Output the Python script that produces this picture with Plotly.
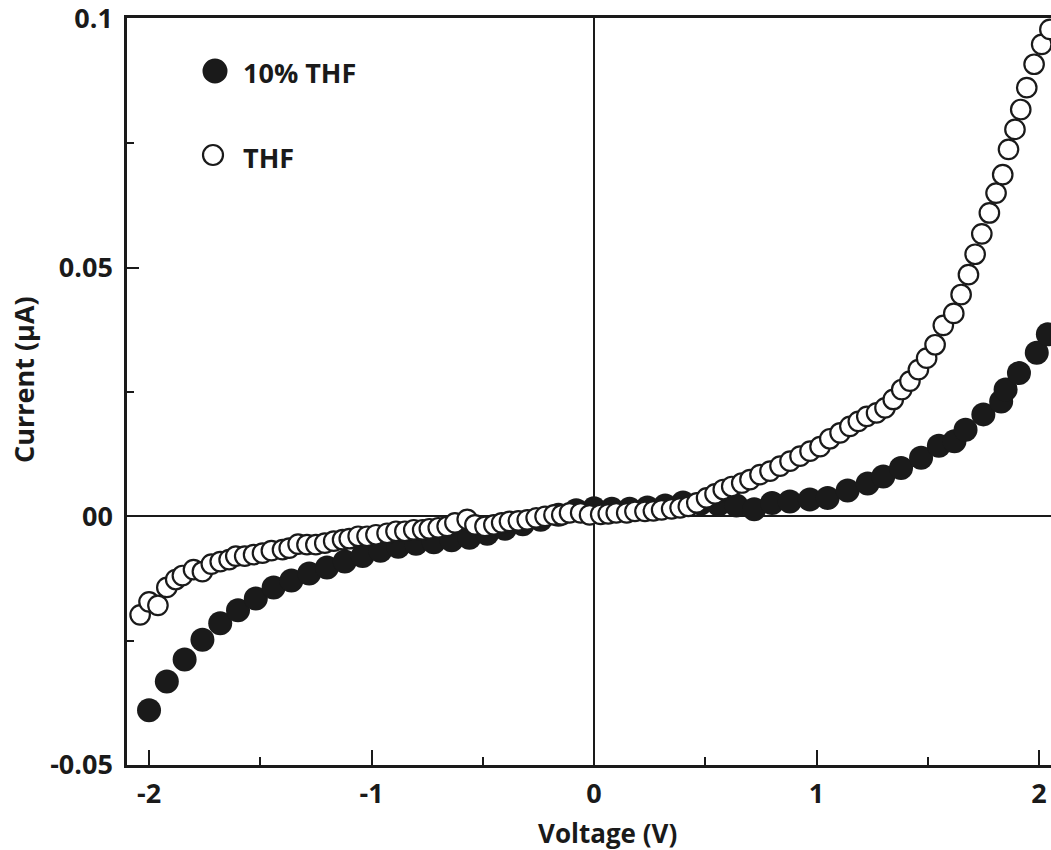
import plotly.graph_objects as go

# I-V sweep, 10% THF (filled markers)
v_10thf = [-2.00, -1.92, -1.84, -1.76, -1.68, -1.60, -1.52, -1.44, -1.36, -1.28,
           -1.20, -1.12, -1.04, -0.96, -0.88, -0.80, -0.72, -0.64, -0.56, -0.48,
           -0.40, -0.32, -0.24, -0.16, -0.08, 0.00, 0.08, 0.16, 0.24, 0.32,
           0.40, 0.48, 0.56, 0.64, 0.72, 0.80, 0.88, 0.97, 1.05, 1.14,
           1.23, 1.30, 1.38, 1.47, 1.55, 1.62, 1.67, 1.75, 1.83, 1.85,
           1.91, 1.99, 2.04]
i_10thf = [-0.0390, -0.0332, -0.0288, -0.0248, -0.0215, -0.0189, -0.0165, -0.0143, -0.0129, -0.0115,
           -0.0103, -0.0091, -0.0080, -0.0069, -0.0061, -0.0055, -0.0052, -0.0048, -0.0043, -0.0035,
           -0.0025, -0.0016, -0.0007, 0.0003, 0.0012, 0.0016, 0.0015, 0.0015, 0.0018, 0.0022,
           0.0028, 0.0026, 0.0024, 0.0022, 0.0014, 0.0027, 0.0030, 0.0034, 0.0037, 0.0052,
           0.0066, 0.0080, 0.0097, 0.0118, 0.0142, 0.0151, 0.0174, 0.0205, 0.0231, 0.0255,
           0.0288, 0.0329, 0.0366]

# I-V sweep, THF (open markers)
v_thf = [-2.04, -2.00, -1.96, -1.92, -1.88, -1.85, -1.80, -1.76, -1.72, -1.68,
         -1.64, -1.61, -1.57, -1.53, -1.49, -1.45, -1.40, -1.37, -1.33, -1.29,
         -1.25, -1.21, -1.17, -1.13, -1.10, -1.06, -1.02, -0.98, -0.93, -0.89,
         -0.85, -0.81, -0.77, -0.74, -0.70, -0.66, -0.625, -0.57, -0.535, -0.49,
         -0.45, -0.415, -0.38, -0.34, -0.30, -0.26, -0.22, -0.18, -0.145, -0.11,
         -0.06, -0.02, 0.03, 0.064, 0.10, 0.147, 0.184, 0.229, 0.267, 0.304,
         0.349, 0.387, 0.424, 0.462, 0.506, 0.544, 0.581, 0.619, 0.664, 0.701,
         0.746, 0.791, 0.836, 0.881, 0.926, 0.971, 1.016, 1.06, 1.106, 1.15,
         1.188, 1.226, 1.27, 1.308, 1.345, 1.383, 1.42, 1.458, 1.495, 1.533,
         1.57, 1.617, 1.65, 1.683, 1.713, 1.743, 1.777, 1.807, 1.837, 1.863,
         1.892, 1.918, 1.945, 1.978, 2.012, 2.049]
i_thf = [-0.0198, -0.0172, -0.0179, -0.0143, -0.0127, -0.0119, -0.0107, -0.0111, -0.0096, -0.0091,
         -0.0087, -0.0080, -0.0080, -0.0077, -0.0074, -0.0069, -0.0067, -0.0064, -0.0056, -0.0057,
         -0.0057, -0.0054, -0.0050, -0.0047, -0.0045, -0.0040, -0.0040, -0.0037, -0.0034, -0.0030,
         -0.0030, -0.0027, -0.0027, -0.0025, -0.0023, -0.0020, -0.0013, -0.0006, -0.0017, -0.0020,
         -0.0017, -0.0013, -0.0010, -0.0009, -0.0007, -0.0003, 0.0000, 0.0003, 0.0003, 0.0007,
         0.0007, 0.0003, 0.0004, 0.0005, 0.0007, 0.0007, 0.0010, 0.0010, 0.0011, 0.0013,
         0.0015, 0.0017, 0.0020, 0.0027, 0.0037, 0.0045, 0.0054, 0.0060, 0.0067, 0.0074,
         0.0084, 0.0091, 0.0101, 0.0111, 0.0121, 0.0131, 0.0140, 0.0156, 0.0168, 0.0181,
         0.0191, 0.0201, 0.0208, 0.0218, 0.0235, 0.0255, 0.0272, 0.0295, 0.0318, 0.0345,
         0.0384, 0.0408, 0.0446, 0.0486, 0.0527, 0.0568, 0.0610, 0.0650, 0.0687, 0.0738,
         0.0778, 0.0818, 0.0862, 0.0909, 0.0949, 0.0979]

x_ticks = [-2, -1, 0, 1, 2]
x_ticktext = ["-2", "-1", "0", "1", "2"]
y_ticks = [-0.05, 0, 0.05, 0.1]
y_ticktext = ["-0.05", "00", "0.05", "0.1"]

series_names = ["10% THF", "THF"]

INK = "#1a1a1a"
FONT = "Open Sans"
FS = 27

W, H = 1051, 850
ML, MR, MT, MB = 127, 0, 18, 85
PW, PH = W - ML - MR, H - MT - MB


def px_x(p):
    return (p - ML) / PW


def px_y(p):
    return (H - MB - p) / PH


fig = go.Figure()

fig.add_trace(go.Scatter(
    x=v_10thf, y=i_10thf, mode="markers", name=series_names[0],
    marker=dict(symbol="circle", size=24, color=INK, line=dict(width=0)),
    showlegend=False,
))
fig.add_trace(go.Scatter(
    x=v_thf, y=i_thf, mode="markers", name=series_names[1],
    marker=dict(symbol="circle", size=19.5, color="white", line=dict(width=2.2, color=INK)),
    showlegend=False,
))

# legend glyphs and labels
shapes = [
    dict(type="circle", xref="paper", yref="paper",
         x0=px_x(202.5), x1=px_x(227.5), y0=px_y(83.5), y1=px_y(58.5),
         fillcolor=INK, line=dict(width=0)),
    dict(type="circle", xref="paper", yref="paper",
         x0=px_x(203), x1=px_x(223), y0=px_y(165), y1=px_y(145),
         fillcolor="white", line=dict(width=2.2, color=INK)),
]
annotations = [
    dict(text="<b>" + series_names[0] + "</b>", xref="paper", yref="paper",
         x=px_x(241), y=px_y(72), xanchor="left", yanchor="middle", showarrow=False,
         font=dict(family=FONT, size=FS, color=INK)),
    dict(text="<b>" + series_names[1] + "</b>", xref="paper", yref="paper",
         x=px_x(241), y=px_y(157), xanchor="left", yanchor="middle", showarrow=False,
         font=dict(family=FONT, size=FS, color=INK)),
    dict(text="<b>Voltage (V)</b>", xref="paper", yref="paper",
         x=px_x(607), y=px_y(833), xanchor="center", yanchor="middle", showarrow=False,
         font=dict(family=FONT, size=26, color=INK)),
    dict(text="<b>Current (\u03bcA)</b>", xref="paper", yref="paper",
         x=px_x(23), y=px_y(380), xanchor="center", yanchor="middle", showarrow=False,
         textangle=-90, font=dict(family=FONT, size=FS, color=INK)),
]

fig.update_layout(
    width=W, height=H,
    margin=dict(l=ML, r=MR, t=MT, b=MB, pad=0),
    paper_bgcolor="white", plot_bgcolor="white",
    font=dict(family=FONT, size=FS, color=INK, weight="bold"),
    shapes=shapes, annotations=annotations,
    showlegend=False,
)

fig.update_xaxes(
    range=[-2.099, 2.054],
    tickvals=x_ticks, ticktext=x_ticktext,
    ticks="inside", ticklen=15, tickwidth=2, tickcolor=INK,
    minor=dict(dtick=0.5, tick0=0, ticks="inside", ticklen=8, tickwidth=2, tickcolor=INK),
    showline=True, linewidth=2.5, linecolor=INK, mirror=True,
    showgrid=False, zeroline=True, zerolinecolor=INK, zerolinewidth=2,
    tickfont=dict(family=FONT, size=FS, color=INK, weight="bold"),
    ticklabelstandoff=3,
)
fig.update_yaxes(
    range=[-0.05, 0.1002],
    tickvals=y_ticks, ticktext=y_ticktext,
    ticks="inside", ticklen=12, tickwidth=2, tickcolor=INK,
    minor=dict(dtick=0.025, tick0=0, ticks="inside", ticklen=7, tickwidth=2, tickcolor=INK),
    showline=True, linewidth=2.5, linecolor=INK, mirror=False,
    showgrid=False, zeroline=True, zerolinecolor=INK, zerolinewidth=2,
    tickfont=dict(family=FONT, size=FS, color=INK, weight="bold"),
    ticklabelstandoff=6, ticklabeloverflow="allow",
)

fig.write_html("out.html")
